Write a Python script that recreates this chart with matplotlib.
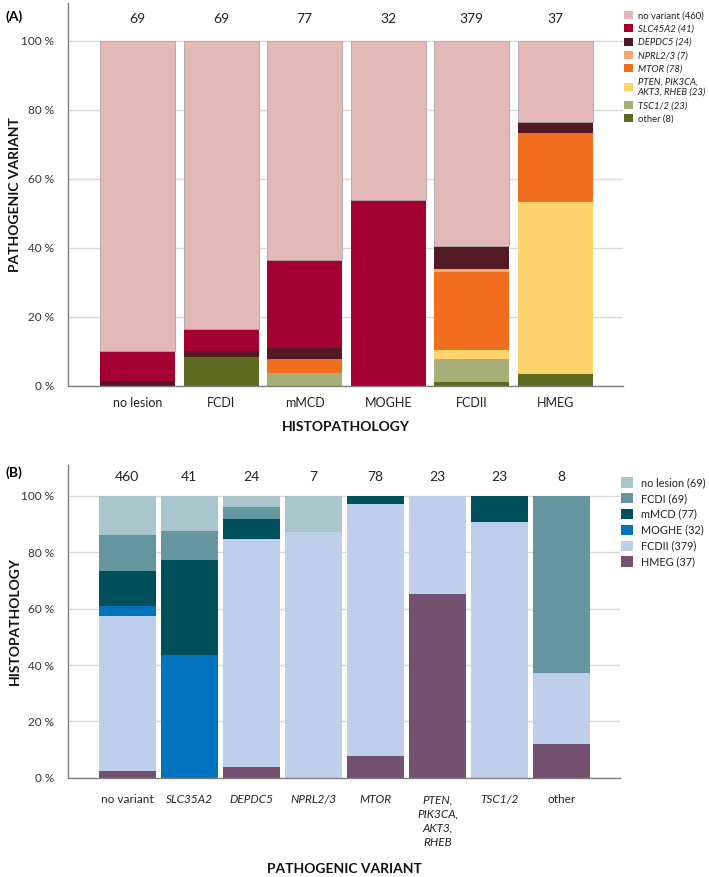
import matplotlib
matplotlib.use("Agg")
import matplotlib.pyplot as plt
from matplotlib.patches import Patch
import numpy as np

plt.rcParams['font.family'] = ['Lato', 'DejaVu Sans']

# ---------------- Panel A data (percent of each histopathology group) ----------------
histo = ['no lesion', 'FCDI', 'mMCD', 'MOGHE', 'FCDII', 'HMEG']
histo_n = [69, 69, 77, 32, 379, 37]
other_a = [0.0, 8.3, 0.0, 0.0, 1.1, 3.5]
tsc_a = [0.0, 0.0, 3.7, 0.0, 6.6, 0.0]
pten_a = [0.0, 0.0, 0.0, 0.0, 2.7, 49.9]
mtor_a = [0.0, 0.0, 4.0, 0.0, 22.5, 19.8]
nprl_a = [0.0, 0.0, 0.0, 0.0, 0.9, 0.0]
depdc5_a = [1.4, 1.8, 3.2, 0.0, 6.8, 3.4]
slc_a = [8.7, 6.4, 25.6, 53.8, 0.0, 0.0]
novar_a = [89.9, 83.5, 63.5, 46.2, 59.4, 23.4]

series_a = [other_a, tsc_a, pten_a, mtor_a, nprl_a, depdc5_a, slc_a, novar_a]
labels_a = ['other (8)', 'TSC1/2 (23)', 'PTEN, PIK3CA,\nAKT3, RHEB (23)', 'MTOR (78)',
            'NPRL2/3 (7)', 'DEPDC5 (24)', 'SLC45A2 (41)', 'no variant (460)']
italic_a = [False, True, True, True, True, True, True, False]
colors_a = ['#5E6A1F', '#A8AF78', '#FED46F', '#F26E1F', '#F8A56F', '#531923', '#A50034', '#E3B8B6']

# ---------------- Panel B data (percent of each variant group) ----------------
variants = ['no variant', 'SLC35A2', 'DEPDC5', 'NPRL2/3', 'MTOR',
            'PTEN,\nPIK3CA,\nAKT3,\nRHEB', 'TSC1/2', 'other']
variants_italic = [False, True, True, True, True, True, True, False]
variants_n = [460, 41, 24, 7, 78, 23, 23, 8]
hmeg_b = [2.5, 0.0, 3.7, 0.0, 7.6, 65.1, 0.0, 12.0]
fcdii_b = [55.0, 0.0, 80.9, 87.3, 89.4, 34.9, 90.7, 25.2]
moghe_b = [3.6, 43.6, 0.0, 0.0, 0.0, 0.0, 0.0, 0.0]
mmcd_b = [12.2, 33.8, 7.4, 0.0, 3.0, 0.0, 9.3, 0.0]
fcdi_b = [12.9, 10.2, 4.1, 0.0, 0.0, 0.0, 0.0, 62.8]
nolesion_b = [13.8, 12.4, 3.9, 12.7, 0.0, 0.0, 0.0, 0.0]

series_b = [hmeg_b, fcdii_b, moghe_b, mmcd_b, fcdi_b, nolesion_b]
labels_b = ['HMEG (37)', 'FCDII (379)', 'MOGHE (32)', 'mMCD (77)', 'FCDI (69)', 'no lesion (69)']
colors_b = ['#73506D', '#BFCEEA', '#0073BC', '#00505C', '#6596A0', '#A9C6CC']

yticks = [0, 20, 40, 60, 80, 100]
ytick_labels = ['0 %', '20 %', '40 %', '60 %', '80 %', '100 %']

W, H = 709, 877
fig = plt.figure(figsize=(W / 100, H / 100), dpi=100)

def px_axes(l, t, r, b):
    return fig.add_axes([l / W, 1 - b / H, (r - l) / W, (b - t) / H])

axA = px_axes(68.3, 3, 623, 386)
axB = px_axes(68.3, 465, 620, 777.7)

def style_axis(ax):
    ax.set_ylim(0, 111)
    ax.set_yticks(yticks)
    ax.set_yticklabels(ytick_labels, fontsize=8.5, color='#333333')
    ax.tick_params(axis='y', length=0, pad=10)
    ax.tick_params(axis='x', length=0)
    ax.yaxis.grid(True, color='#D9D9D9', linewidth=1.0)
    ax.set_axisbelow(True)
    for s in ['top', 'right']:
        ax.spines[s].set_visible(False)
    ax.spines['left'].set_color('#7F7F7F')
    ax.spines['bottom'].set_color('#7F7F7F')
    ax.spines['left'].set_linewidth(1.0)
    ax.spines['bottom'].set_linewidth(1.0)

# ---- Panel A ----
xa = np.arange(len(histo))
bottom = np.zeros(len(histo))
handles_a = []
for vals, lab, col in zip(series_a, labels_a, colors_a):
    v = np.array(vals)
    if col == '#E3B8B6':
        axA.bar(xa, v, bottom=bottom, width=0.9, color=col, edgecolor='#A8A8A8', linewidth=0.6)
    else:
        axA.bar(xa, v, bottom=bottom, width=0.9, color=col, linewidth=0)
    bottom += v
    handles_a.append(Patch(facecolor=col, label=lab))
axA.set_xlim(-0.83, 5.81)
style_axis(axA)
axA.set_xticks(xa)
axA.set_xticklabels(histo, fontsize=9, color='#222222')
axA.tick_params(axis='x', pad=8)
for i, n in enumerate(histo_n):
    axA.text(xa[i], 106.4, str(n), ha='center', va='center', fontsize=10, color='#222222')
axA.set_ylabel('PATHOGENIC VARIANT', fontsize=10, fontweight='bold', color='#111111')
axA.yaxis.set_label_coords(-0.0853, 0.5)
axA.set_xlabel('HISTOPATHOLOGY', fontsize=10, fontweight='bold', color='#111111')
axA.xaxis.set_label_coords(0.5, -0.092)

legA = axA.legend(handles=handles_a[::-1], loc='upper left',
                  bbox_to_anchor=(624 / W, 1 - 11 / H), bbox_transform=fig.transFigure,
                  frameon=False, fontsize=6.8, handlelength=0.95, handleheight=0.95,
                  handletextpad=0.5, labelspacing=0.42, borderpad=0, borderaxespad=0)
for t, it in zip(legA.get_texts(), italic_a[::-1]):
    t.set_color('#222222')
    if it:
        t.set_fontstyle('italic')

fig.text(5 / W, 1 - 17 / H, '(A)', fontsize=10, fontweight='bold', va='center', ha='left')

# ---- Panel B ----
xb = np.arange(len(variants))
bottom = np.zeros(len(variants))
handles_b = []
for vals, lab, col in zip(series_b, labels_b, colors_b):
    v = np.array(vals)
    axB.bar(xb, v, bottom=bottom, width=0.92, color=col, linewidth=0)
    bottom += v
    handles_b.append(Patch(facecolor=col, label=lab))
axB.set_xlim(-0.95, 7.94)
style_axis(axB)
axB.set_xticks(xb)
axB.set_xticklabels(variants, fontsize=8.5, color='#222222', linespacing=1.35)
for t, it in zip(axB.get_xticklabels(), variants_italic):
    if it:
        t.set_fontstyle('italic')
    t.set_verticalalignment('top')
axB.tick_params(axis='x', pad=12)
for i, n in enumerate(variants_n):
    axB.text(xb[i], 106.9, str(n), ha='center', va='center', fontsize=10, color='#222222')
axB.set_ylabel('HISTOPATHOLOGY', fontsize=10, fontweight='bold', color='#111111')
axB.yaxis.set_label_coords(-0.0857, 0.5)
axB.set_xlabel('PATHOGENIC VARIANT', fontsize=10, fontweight='bold', color='#111111')
axB.xaxis.set_label_coords(0.5, -0.273)

legB = axB.legend(handles=handles_b[::-1], loc='upper left',
                  bbox_to_anchor=(621 / W, 1 - 477 / H), bbox_transform=fig.transFigure,
                  frameon=False, fontsize=7.8, handlelength=1.1, handleheight=1.1,
                  handletextpad=0.75, labelspacing=0.45, borderpad=0, borderaxespad=0)
for t in legB.get_texts():
    t.set_color('#222222')

fig.text(5 / W, 1 - 473 / H, '(B)', fontsize=10, fontweight='bold', va='center', ha='left')

fig.savefig('out.png', dpi=100)
